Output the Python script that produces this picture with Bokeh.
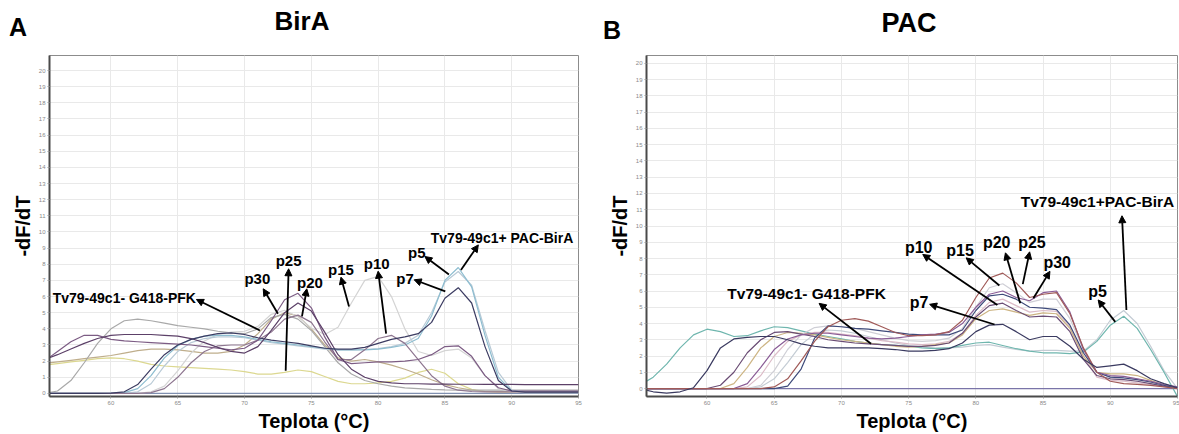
from bokeh.plotting import figure
from bokeh.layouts import row, column
from bokeh.models import Range1d, FixedTicker, Arrow, NormalHead, Label, Div
from bokeh.embed import file_html
from bokeh.resources import INLINE

# ---------------- data ----------------
TEMPS = [55, 56, 57, 58, 59, 60, 61, 62, 63, 64, 65, 66, 67, 68, 69, 70, 71, 72, 73, 74,
         75, 76, 77, 78, 79, 80, 81, 82, 83, 84, 85, 86, 87, 88, 89, 90, 91, 92, 93, 94, 95]
X_TICKS = [60, 65, 70, 75, 80, 85, 90, 95]
Y_TICKS = [0, 1, 2, 3, 4, 5, 6, 7, 8, 9, 10, 11, 12, 13, 14, 15, 16, 17, 18, 19, 20]

PANEL_LETTERS = ["A", "B"]
PANEL_TITLES = ["BirA", "PAC"]
X_LABEL = "Teplota (°C)"
Y_LABEL = "-dF/dT"

# Panel A (BirA) melt curves, -dF/dT at TEMPS
A_PURPLE = [2.0, 2.6, 3.2, 3.6, 3.6, 3.35, 3.25, 3.2, 3.15, 3.1, 3.05, 3.0, 2.9, 2.8, 2.7, 2.8, 3.3, 4.5, 5.8, 6.2,
            5.3, 3.5, 2.1, 1.85, 1.9, 1.95, 1.95, 2.0, 2.1, 2.4, 2.9, 2.95, 2.3, 1.1, 0.35, 0.15, 0.15, 0.15, 0.15, 0.15, 0.15]
A_DPURPLE = [2.1, 2.4, 2.75, 3.1, 3.4, 3.6, 3.65, 3.65, 3.65, 3.6, 3.55, 3.4, 3.15, 2.85, 2.6, 2.5, 2.9, 3.9, 5.0, 5.6,
             5.1, 3.8, 2.4, 1.5, 1.0, 0.75, 0.65, 0.6, 0.6, 0.58, 0.58, 0.57, 0.57, 0.56, 0.56, 0.56, 0.55, 0.55, 0.55, 0.55, 0.55]
A_YELLOW = [1.75, 1.85, 1.95, 2.05, 2.15, 2.2, 2.15, 2.0, 1.8, 1.7, 1.65, 1.6, 1.55, 1.5, 1.45, 1.35, 1.2, 1.2, 1.3, 1.45,
            1.35, 1.05, 0.75, 0.6, 0.6, 0.65, 0.75, 0.95, 1.3, 1.5, 1.25, 0.6, 0.25, 0.12, 0.1, 0.1, 0.1, 0.1, 0.1, 0.1, 0.1]
A_TAN = [1.85, 1.95, 2.05, 2.15, 2.25, 2.35, 2.5, 2.65, 2.75, 2.75, 2.7, 2.6, 2.5, 2.5, 2.6, 3.0, 3.7, 4.6, 5.0, 4.8,
         4.0, 3.0, 2.2, 2.0, 2.1, 1.95, 1.75, 1.5, 1.2, 0.85, 0.55, 0.35, 0.2, 0.12, 0.1, 0.1, 0.1, 0.1, 0.1, 0.1, 0.1]
A_GRAY = [0.0, 0.15, 0.8, 1.9, 3.1, 4.0, 4.5, 4.6, 4.5, 4.35, 4.2, 4.1, 4.0, 3.85, 3.75, 3.7, 4.0, 4.7, 4.9, 4.6,
          3.9, 2.9, 1.9, 1.2, 0.8, 0.6, 0.45, 0.35, 0.3, 0.25, 0.22, 0.2, 0.2, 0.2, 0.2, 0.2, 0.2, 0.2, 0.2, 0.2, 0.2]
A_NAVY = [0.0, 0.0, 0.0, 0.0, 0.0, 0.02, 0.1, 0.55, 1.5, 2.4, 3.0, 3.35, 3.55, 3.7, 3.75, 3.65, 3.45, 3.3, 3.2, 3.1,
          2.95, 2.8, 2.75, 2.75, 2.85, 3.1, 3.35, 3.5, 3.7, 4.4, 5.9, 6.55, 5.6, 2.9, 0.8, 0.15, 0.08, 0.08, 0.08, 0.08, 0.08]
A_LBLUE = [0.0, 0.0, 0.0, 0.0, 0.0, 0.0, 0.05, 0.3, 1.1, 2.2, 2.95, 3.35, 3.55, 3.6, 3.6, 3.5, 3.35, 3.2, 3.1, 3.0,
           2.9, 2.8, 2.7, 2.7, 2.7, 2.75, 2.85, 3.0, 3.4, 4.8, 7.0, 7.8, 6.6, 3.6, 1.0, 0.15, 0.1, 0.1, 0.1, 0.1, 0.1]
A_LSTEEL = [0.0, 0.0, 0.0, 0.0, 0.0, 0.0, 0.0, 0.1, 0.6, 1.7, 2.6, 3.15, 3.4, 3.5, 3.5, 3.45, 3.3, 3.15, 3.05, 2.95,
            2.85, 2.75, 2.7, 2.7, 2.72, 2.78, 2.9, 3.1, 3.6, 5.0, 6.9, 7.55, 6.7, 3.9, 1.3, 0.2, 0.1, 0.1, 0.1, 0.1, 0.1]
A_SILVER = [0.0, 0.0, 0.0, 0.0, 0.0, 0.0, 0.0, 0.0, 0.1, 0.45, 1.4, 2.5, 3.25, 3.65, 3.8, 3.85, 4.15, 4.9, 5.15, 4.75,
            4.05, 3.65, 4.1, 5.6, 7.0, 7.25, 6.0, 4.0, 2.6, 2.35, 2.65, 2.75, 2.2, 1.1, 0.3, 0.1, 0.05, 0.05, 0.05, 0.05, 0.05]
A_MAUVE = [0.0, 0.0, 0.0, 0.0, 0.0, 0.0, 0.0, 0.0, 0.05, 0.3, 1.0, 1.9, 2.6, 2.95, 3.0, 3.0, 3.3, 3.8, 4.6, 4.85,
           4.4, 3.2, 2.1, 2.1, 2.7, 3.4, 3.6, 3.1, 2.1, 1.1, 0.45, 0.2, 0.12, 0.1, 0.1, 0.1, 0.1, 0.1, 0.1, 0.1, 0.1]
A_BASE = [0.0, 0.0, 0.0, 0.0, 0.0, 0.0, 0.0, 0.0, 0.0, 0.0, 0.0, 0.0, 0.0, 0.0, 0.0, 0.0, 0.0, 0.0, 0.0, 0.0,
          0.0, 0.0, 0.0, 0.0, 0.0, 0.0, 0.0, 0.0, 0.0, 0.0, 0.0, 0.0, 0.0, 0.0, 0.0, 0.0, 0.0, 0.0, 0.0, 0.0, 0.0]

# Panel B (PAC) melt curves
B_TEAL = [0.2, 0.7, 1.5, 2.5, 3.3, 3.65, 3.5, 3.2, 3.25, 3.55, 3.8, 3.75, 3.55, 3.35, 3.2, 3.05, 2.9, 2.8, 2.7, 2.65,
          2.6, 2.5, 2.45, 2.5, 2.65, 2.8, 2.85, 2.65, 2.45, 2.3, 2.2, 2.2, 2.15, 2.25, 2.9, 3.9, 4.45, 3.7, 2.4, 1.0, -0.5]
B_SILVER = [0.0, 0.0, 0.0, 0.0, 0.0, 0.0, 0.0, 0.0, 0.0, 0.1, 0.6, 1.6, 2.7, 3.35, 3.6, 3.55, 3.4, 3.2, 3.0, 2.8,
            2.65, 2.55, 2.5, 2.5, 2.55, 2.65, 2.7, 2.55, 2.4, 2.3, 2.35, 2.35, 2.3, 2.3, 3.0, 4.2, 4.8, 4.0, 2.6, 1.1, 0.0]
B_NAVY = [0.0, -0.2, -0.28, -0.2, 0.05, 1.1, 2.5, 3.05, 3.15, 3.2, 3.2, 3.0, 2.75, 2.6, 2.5, 2.5, 2.5, 2.5, 2.45, 2.4,
          2.3, 2.3, 2.35, 2.45, 2.8, 3.5, 3.9, 3.95, 3.5, 3.0, 3.2, 3.2, 2.6, 1.8, 1.3, 1.4, 1.5, 1.1, 0.6, 0.3, 0.05]
B_BASE = [0.0, 0.0, 0.0, 0.0, 0.0, 0.0, 0.0, 0.0, 0.0, 0.0, 0.0, 0.0, 0.0, 0.0, 0.0, 0.0, 0.0, 0.0, 0.0, 0.0,
          0.0, 0.0, 0.0, 0.0, 0.0, 0.0, 0.0, 0.0, 0.0, 0.0, 0.0, 0.0, 0.0, 0.0, 0.0, 0.0, 0.0, 0.0, 0.0, 0.0, 0.0]
B_BROWN = [0.0, 0.0, 0.0, 0.0, 0.0, 0.0, 0.0, 0.0, 0.0, 0.0, 0.1, 0.6, 1.7, 2.9, 3.8, 4.2, 4.3, 4.15, 3.8, 3.45,
           3.25, 3.25, 3.3, 3.5, 4.2, 5.6, 6.8, 7.1, 6.5, 5.6, 5.8, 5.9, 4.6, 2.5, 1.0, 0.45, 0.3, 0.25, 0.2, 0.1, 0.0]
B_PURPLE = [0.0, 0.0, 0.0, 0.0, 0.0, 0.0, 0.0, 0.0, 0.3, 1.3, 2.4, 3.05, 3.3, 3.4, 3.4, 3.3, 3.2, 3.1, 3.05, 3.1,
            3.2, 3.3, 3.35, 3.45, 4.0, 5.0, 5.8, 6.0, 5.6, 5.4, 5.9, 6.0, 4.7, 2.4, 1.0, 0.8, 0.75, 0.6, 0.45, 0.25, 0.1]
B_LGRAY = [0.0, 0.0, 0.0, 0.0, 0.0, 0.0, 0.0, 0.0, 0.0, 0.2, 1.1, 2.4, 3.3, 3.75, 3.85, 3.8, 3.7, 3.5, 3.3, 3.1,
           2.95, 2.9, 2.95, 3.1, 3.7, 5.0, 6.2, 6.45, 5.9, 5.3, 5.5, 5.5, 4.3, 2.4, 1.0, 0.7, 0.7, 0.6, 0.4, 0.2, 0.05]
B_NAVY2 = [0.0, 0.0, 0.0, 0.0, 0.0, 0.0, 0.0, 0.0, 0.0, 0.0, 0.0, 0.15, 1.2, 3.1, 3.85, 3.8, 3.7, 3.65, 3.55, 3.45,
           3.35, 3.3, 3.3, 3.3, 3.6, 4.8, 5.7, 5.8, 5.5, 5.0, 4.95, 4.85, 3.9, 2.2, 1.0, 0.7, 0.65, 0.55, 0.4, 0.2, 0.05]
B_TAN = [0.0, 0.0, 0.0, 0.0, 0.0, 0.0, 0.0, 0.3, 1.3, 2.5, 3.2, 3.45, 3.4, 3.3, 3.15, 3.0, 2.9, 2.8, 2.7, 2.6,
         2.55, 2.6, 2.7, 2.8, 3.3, 4.3, 4.8, 4.9, 4.7, 4.5, 4.65, 4.6, 3.7, 2.0, 1.0, 0.9, 0.9, 0.8, 0.5, 0.2, 0.05]
B_DPURPLE = [0.0, 0.0, 0.0, 0.0, 0.0, 0.0, 0.2, 1.0, 2.2, 3.0, 3.45, 3.5, 3.35, 3.2, 3.0, 2.9, 2.8, 2.75, 2.7, 2.65,
             2.6, 2.6, 2.65, 2.8, 3.4, 4.4, 5.1, 5.25, 4.8, 4.4, 4.45, 4.4, 3.5, 1.8, 0.8, 0.6, 0.55, 0.45, 0.3, 0.15, 0.05]
B_PINK = [0.0, 0.0, 0.0, 0.0, 0.0, 0.0, 0.0, 0.0, 0.1, 0.8, 2.0, 2.9, 3.3, 3.45, 3.45, 3.35, 3.25, 3.1, 2.95, 2.85,
          2.75, 2.7, 2.75, 2.9, 3.4, 4.5, 5.3, 5.5, 5.1, 4.7, 4.8, 4.75, 3.8, 2.0, 0.7, 0.5, 0.45, 0.35, 0.25, 0.12, 0.05]

A_SERIES = [A_BASE, A_YELLOW, A_TAN, A_GRAY, A_SILVER, A_LSTEEL, A_LBLUE, A_MAUVE, A_PURPLE, A_DPURPLE, A_NAVY]
A_COLORS = ["#8090b0", "#dcd890", "#bfae8c", "#a9a9a9", "#d4d4d4", "#b9cad6", "#8dbdd0", "#8e7690", "#7c5c84", "#5c4068", "#3c3c62"]
B_SERIES = [B_BASE, B_SILVER, B_TEAL, B_PINK, B_TAN, B_LGRAY, B_DPURPLE, B_NAVY2, B_PURPLE, B_BROWN, B_NAVY]
B_COLORS = ["#7a74a8", "#c4ccd4", "#6fb6ae", "#dcbcc8", "#cdb584", "#cfcfd6", "#6a4c74", "#3e4a7a", "#8a5c96", "#a05a58", "#3a3a60"]

# annotations: text, x, y, align, size ; arrows: tail x, tail y, head x, head y
A_LABELS = [("Tv79-49c1- G418-PFK", 55.64, 5.9, "left", "14px"), ("p30", 70.96, 7.1, "center", "15px"),
            ("p25", 73.3, 8.23, "center", "15px"), ("p20", 74.9, 6.9, "center", "15px"),
            ("p15", 77.22, 7.65, "center", "15px"), ("p10", 79.9, 8.02, "center", "15px"),
            ("p7", 82.02, 7.14, "center", "15px"), ("p5", 82.9, 8.7, "center", "15px"),
            ("Tv79-49c1+ PAC-BirA", 83.94, 9.63, "left", "14px")]
A_ARROWS = [(71.15, 3.9, 66.4, 5.82), (72.5, 4.94, 71.4, 6.48), (73.08, 1.4, 73.3, 7.72),
            (74.3, 4.77, 74.66, 6.48), (77.82, 5.39, 77.22, 7.2), (80.6, 3.7, 80.0, 7.57),
            (85.03, 6.32, 82.7, 7.04), (85.3, 7.37, 83.5, 8.48), (86.2, 7.65, 87.5, 9.2)]
B_LABELS = [("Tv79-49c1- G418-PFK", 67.41, 5.87, "center", "15.5px"), ("p10", 75.75, 8.7, "center", "16px"),
            ("p15", 78.83, 8.5, "center", "16px"), ("p20", 81.55, 9.0, "center", "16px"),
            ("p25", 84.17, 9.0, "center", "16px"), ("p30", 86.05, 7.77, "center", "16px"),
            ("p7", 75.77, 5.28, "center", "16px"), ("p5", 89.05, 5.97, "center", "16px"),
            ("Tv79-49c1+PAC-BirA", 89.05, 11.5, "center", "15.5px")]
B_ARROWS = [(72.2, 2.76, 68.34, 5.24), (81.6, 5.14, 76.05, 8.25), (81.75, 6.34, 79.28, 8.04),
            (83.3, 5.24, 82.2, 8.35), (83.49, 6.42, 84.0, 8.41), (84.28, 5.55, 85.51, 7.21),
            (81.39, 3.94, 76.56, 5.18), (90.37, 4.1, 89.1, 5.45), (91.2, 4.83, 90.87, 10.63)]

FONT = "Liberation Sans"
HEADER_H = 54


def panel(width, borders, xr, yr, series, colors, labels, arrows):
    left, right, top, bottom = borders
    p = figure(width=width, height=434 - HEADER_H, output_backend="svg", toolbar_location=None,
               x_range=Range1d(*xr), y_range=Range1d(*yr),
               min_border_left=left, min_border_right=right,
               min_border_top=top, min_border_bottom=bottom)
    p.outline_line_color = "#8c8c8c"
    p.outline_line_width = 1
    p.background_fill_color = "white"
    p.border_fill_color = "white"
    p.xaxis.ticker = FixedTicker(ticks=X_TICKS)
    p.yaxis.ticker = FixedTicker(ticks=Y_TICKS)
    p.xgrid.ticker = FixedTicker(ticks=X_TICKS)
    p.ygrid.ticker = FixedTicker(ticks=Y_TICKS)
    p.grid.grid_line_color = "#e9e9e9"
    p.grid.grid_line_width = 1
    for ax in (p.xaxis, p.yaxis):
        ax.axis_line_color = "#4a4a4a"
        ax.axis_line_width = 2
        ax.major_tick_line_color = "#9a9a9a"
        ax.major_tick_in = 0
        ax.major_tick_out = 2
        ax.minor_tick_line_color = None
        ax.major_label_text_font = FONT
        ax.major_label_text_font_size = "6px"
        ax.major_label_text_color = "#8a8a8a"
        ax.major_label_standoff = 2
        ax.axis_label_text_font = FONT
        ax.axis_label_text_font_style = "bold"
        ax.axis_label_text_font_size = "20px"
        ax.axis_label_text_color = "black"
        ax.axis_label_standoff = 2
    p.xaxis.axis_label = X_LABEL
    p.yaxis.axis_label = Y_LABEL

    for ys, c in zip(series, colors):
        p.line(TEMPS, ys, line_color=c, line_width=1.2)

    for (t, x, y, al, fs) in labels:
        p.add_layout(Label(x=x, y=y, text=t, text_font=FONT, text_font_style="bold",
                           text_font_size=fs, text_align=al, text_baseline="middle",
                           text_color="black"))
    for (x0, y0, x1, y1) in arrows:
        p.add_layout(Arrow(end=NormalHead(size=7, fill_color="black", line_color="black"),
                           x_start=x0, y_start=y0, x_end=x1, y_end=y1,
                           line_color="black", line_width=1.8))
    return p


def span(text, left, top, size, center=False):
    tr = "transform:translateX(-50%);" if center else ""
    return (f'<span style="position:absolute;left:{left}px;top:{top}px;font-size:{size}px;'
            f'line-height:1;white-space:nowrap;{tr}">{text}</span>')


header_html = ('<div style="position:relative;width:1179px;height:54px;'
               'font-family:\'Liberation Sans\',Arial,sans-serif;font-weight:bold;color:black;">'
               + span(PANEL_LETTERS[0], 9, 15, 25)
               + span(PANEL_TITLES[0], 302, 8, 26, center=True)
               + span(PANEL_LETTERS[1], 603, 18, 25)
               + span(PANEL_TITLES[1], 909, 10, 27, center=True)
               + '</div>')
header = Div(text=header_html, width=1179, height=HEADER_H, margin=0)

pA = panel(595, (49, 17, 0, 31), (55.4, 95.0), (-0.19, 20.93), A_SERIES, A_COLORS,
           A_LABELS, A_ARROWS)
pB = panel(584, (51, 2, 1, 31), (55.5, 95.0), (-0.49, 20.49), B_SERIES, B_COLORS,
           B_LABELS, B_ARROWS)

layout = column(header, row(pA, pB))
open("out.html", "w").write(file_html(layout, INLINE))
